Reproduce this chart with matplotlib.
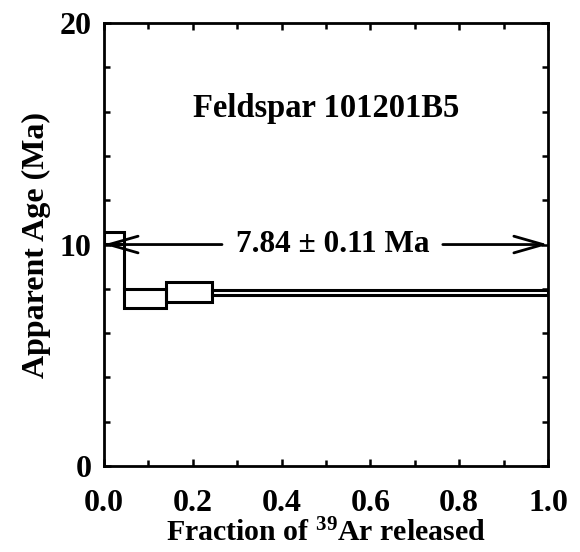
import matplotlib
matplotlib.use('Agg')
import matplotlib.pyplot as plt
from matplotlib.patches import Rectangle

# step heating spectrum (fraction of 39Ar, apparent age in Ma)
frac_edges = [0.0, 0.045, 0.14, 0.243, 1.0]
age_low = [10.02, 7.13, 7.40, 7.74]
age_high = [10.56, 7.99, 8.30, 7.94]

plateau_age = 7.84
plateau_err = 0.11
arrow_y = 10.0
sample = 'Feldspar 101201B5'

plt.rcParams['font.family'] = ['Liberation Serif', 'DejaVu Serif']
plt.rcParams['font.weight'] = 'bold'
plt.rcParams['axes.labelweight'] = 'bold'
plt.rcParams['mathtext.fontset'] = 'custom'
plt.rcParams['mathtext.rm'] = 'Liberation Serif:bold'
plt.rcParams['mathtext.default'] = 'rm'

fig = plt.figure(figsize=(5.8, 5.52), dpi=100)
ax = fig.add_axes([0.179, 0.156, 0.766, 0.802])

for i in range(len(age_low)):
    ax.add_patch(Rectangle((frac_edges[i], age_low[i]),
                           frac_edges[i + 1] - frac_edges[i],
                           age_high[i] - age_low[i],
                           fill=False, ec='black', lw=2.2))
# join steps that do not overlap
for i in range(len(age_low) - 1):
    if age_low[i] > age_high[i + 1] or age_low[i + 1] > age_high[i]:
        ax.vlines(frac_edges[i + 1], min(age_high[i], age_high[i + 1]),
                  max(age_low[i], age_low[i + 1]), color='black', lw=2.2)

ax.set_xlim(0, 1)
ax.set_ylim(0, 20)
ax.set_xticks([0, 0.2, 0.4, 0.6, 0.8, 1.0])
ax.set_xticklabels(['0.0', '0.2', '0.4', '0.6', '0.8', '1.0'])
ax.set_xticks([0.1, 0.3, 0.5, 0.7, 0.9], minor=True)
ax.set_yticks([0, 10, 20])
ax.set_yticks([2, 4, 6, 8, 12, 14, 16, 18], minor=True)
ax.tick_params(which='both', direction='in', top=True, right=True,
               width=1.8, labelsize=23)
ax.tick_params(axis='x', pad=17)
ax.tick_params(axis='y', pad=9)
ax.tick_params(which='major', length=5)
ax.tick_params(which='minor', length=4)
for s in ax.spines.values():
    s.set_linewidth(2)

ax.set_xlabel(r'Fraction of $^{39}$Ar released', fontsize=21.5, labelpad=0)
ax.set_ylabel('Apparent Age (Ma)', fontsize=23, labelpad=6)

ax.text(0.5, 16.15, sample, ha='center', va='center', fontsize=23.5)
ax.text(0.515, arrow_y, f'{plateau_age:.2f} ± {plateau_err:.2f} Ma',
        ha='center', va='center', fontsize=22.5)

arrow = dict(arrowstyle='->,head_length=1.05,head_width=0.3', lw=2,
             color='black', mutation_scale=20, shrinkA=0, shrinkB=0)
ax.annotate('', xy=(0.0, arrow_y), xytext=(0.266, arrow_y), arrowprops=arrow)
ax.annotate('', xy=(1.0, arrow_y), xytext=(0.763, arrow_y), arrowprops=arrow)

fig.savefig('out.png', dpi=100)
